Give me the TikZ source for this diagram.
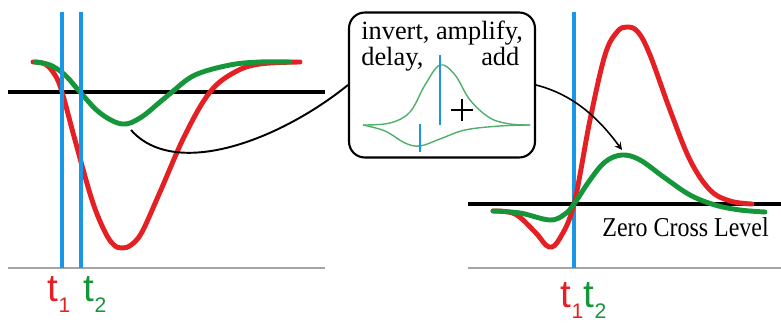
\documentclass[tikz,border=0pt]{standalone}
\usepackage{fontspec}
\setmainfont{Liberation Serif}
\setsansfont{Liberation Sans}
\usepackage{xcolor}
\usepackage{graphicx}
\usetikzlibrary{positioning}

\definecolor{sigred}{RGB}{228,32,36}
\definecolor{siggreen}{RGB}{22,150,58}
\definecolor{tblue}{RGB}{26,150,230}
\definecolor{basegray}{RGB}{165,165,165}

\newcommand{\tsub}[1]{t\raisebox{-6pt}{\fontsize{12}{12}\selectfont #1}}

\begin{document}
\begin{tikzpicture}[x=0.02cm,y=-0.02cm,
  sig/.style={line width=2.8pt,line cap=round},
  thinsig/.style={siggreen!75,line width=0.8pt},
  tline/.style={tblue,line width=2.5pt},
  level/.style={black,line width=2.1pt},
  base/.style={basegray,line width=1.2pt},
  proc/.style={draw,line width=1.2pt,rounded corners=9pt,minimum width=3.72cm,minimum height=2.9cm},
  ptext/.style={font=\fontsize{15}{13}\selectfont,align=left,inner sep=0pt},
  tlab/.style={font=\sffamily\fontsize{22}{22}\selectfont,inner sep=0pt,anchor=base},
  arr/.style={->,line width=0.9pt,>=stealth}
]
  \useasboundingbox (0,0) rectangle (781,327);

  % Left: input pulses
  \draw[base] (8,268) -- (325,268);
  \draw[level] (8,92) -- (325,92);
  \draw[sig,sigred] plot[smooth,tension=0.6] coordinates {(33,62) (45,64) (55,75) (62,92) (75,140) (92,200) (105,232) (114,245) (122,248) (131,245) (142,232) (160,192) (185,135) (210,92) (235,72) (260,64) (300,62)};
  \draw[sig,siggreen] plot[smooth,tension=0.6] coordinates {(35,62) (50,65) (65,75) (80,92) (100,113) (122,124) (140,118) (160,102) (172,92) (195,75) (230,65) (260,62) (290,62)};
  \draw[tline] (62,12) -- (62,268);
  \draw[tline] (81,12) -- (81,268);
  \node[tlab,sigred] (t1L) at (59,302) {\tsub{1}};
  \node[tlab,siggreen] (t2L) at (95,302) {\tsub{2}};

  % Processing box
  \node[proc] (proc) at (442,85) {};
  \node[ptext,anchor=north west] (ptxt) at (361,21) {invert, amplify,\\delay,\hspace{2.2em}add};
  \draw[thinsig] plot[smooth,tension=0.6] coordinates {(363,125) (390,123) (410,112) (425,85) (440,65) (455,75) (470,100) (490,118) (510,124) (530,125)};
  \draw[thinsig] plot[smooth,tension=0.6] coordinates {(363,125) (385,131) (405,143) (420,146) (440,139) (465,130) (500,126) (530,125)};
  \draw[tblue,line width=1.6pt] (440,55) -- (440,125);
  \draw[tblue,line width=1.6pt] (420,124) -- (420,152);
  \draw[line width=0.8pt] (451,110) -- (473,110) (462,99) -- (462,121);

  % Right: shaped pulses
  \draw[base] (468,268) -- (781,268);
  \draw[tline] (574,12) -- (574,268);
  \draw[level] (468,204) -- (781,204);
  \draw[sig,sigred] plot[smooth,tension=0.6] coordinates {(493,211) (515,214) (535,232) (549,247) (560,238) (574,204) (590,120) (605,55) (617,32) (627,27) (638,32) (650,55) (670,110) (690,160) (710,190) (730,201) (752,204)};
  \draw[sig,siggreen] plot[smooth,tension=0.6] coordinates {(493,211) (520,213) (550,220) (565,214) (574,204) (590,180) (605,162) (622,155) (640,160) (665,178) (690,195) (715,205) (740,210) (765,212)};
  \node[font=\fontsize{15.5}{15}\selectfont,anchor=base west,inner sep=0pt] (zcl) at (602,237) {\scalebox{0.88}[1]{Zero Cross Level}};
  \node[tlab,sigred] (t1R) at (572,308) {\tsub{1}};
  \node[tlab,siggreen,base right=0pt of t1R] (t2R) {\tsub{2}};

  % Connectors
  \coordinate (dipL) at (131,130);
  \coordinate (peakR) at (622,150);
  \draw[line width=1.1pt] (dipL) .. controls (175,180) and (280,140) .. (proc.west);
  \draw[arr] (proc.east) .. controls (575,95) and (600,120) .. (peakR);
\end{tikzpicture}
\end{document}
